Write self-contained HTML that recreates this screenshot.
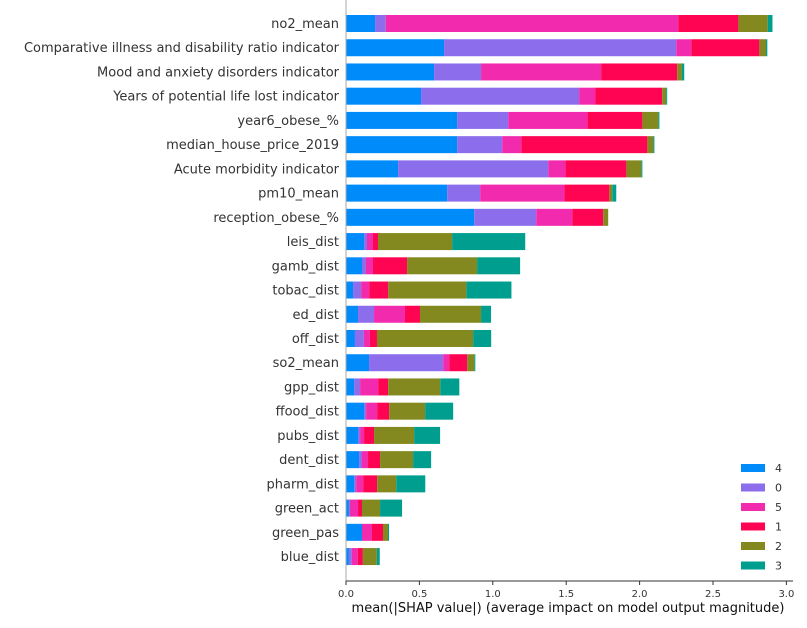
<!DOCTYPE html>
<html><head><meta charset="utf-8"><style>
html,body{margin:0;padding:0;background:#fff;}
svg text{font-family:"DejaVu Sans","Liberation Sans",sans-serif;}
</style></head><body>
<svg id="chart" width="807" height="623" xmlns="http://www.w3.org/2000/svg"></svg>
<script>
const features = ["no2_mean","Comparative illness and disability ratio indicator","Mood and anxiety disorders indicator","Years of potential life lost indicator","year6_obese_%","median_house_price_2019","Acute morbidity indicator","pm10_mean","reception_obese_%","leis_dist","gamb_dist","tobac_dist","ed_dist","off_dist","so2_mean","gpp_dist","ffood_dist","pubs_dist","dent_dist","pharm_dist","green_act","green_pas","blue_dist"];
const classNames = ["4","0","5","1","2","3"];
const class4 = [0.198,0.668,0.600,0.511,0.757,0.757,0.355,0.689,0.873,0.123,0.109,0.048,0.082,0.061,0.157,0.055,0.123,0.082,0.089,0.055,0.020,0.109,0.020];
const class0 = [0.073,1.582,0.320,1.077,0.348,0.307,1.023,0.225,0.423,0.020,0.027,0.055,0.109,0.061,0.505,0.041,0.014,0.014,0.020,0.014,0.007,0.000,0.020];
const class5 = [1.993,0.102,0.818,0.109,0.539,0.130,0.116,0.573,0.245,0.041,0.048,0.055,0.211,0.041,0.041,0.123,0.075,0.027,0.041,0.048,0.055,0.068,0.041];
const class1 = [0.409,0.464,0.518,0.457,0.375,0.859,0.416,0.307,0.211,0.034,0.232,0.130,0.102,0.048,0.123,0.068,0.082,0.068,0.082,0.095,0.027,0.075,0.034];
const class2 = [0.200,0.045,0.032,0.027,0.109,0.041,0.102,0.020,0.034,0.505,0.477,0.532,0.416,0.655,0.048,0.355,0.245,0.273,0.225,0.130,0.123,0.034,0.095];
const class3 = [0.032,0.009,0.016,0.007,0.007,0.007,0.007,0.027,0.000,0.498,0.293,0.307,0.068,0.123,0.007,0.130,0.191,0.177,0.123,0.198,0.150,0.007,0.020];
const xTicks = [0.0,0.5,1.0,1.5,2.0,2.5,3.0];
const xTickLabels = ["0.0","0.5","1.0","1.5","2.0","2.5","3.0"];

const series = [class4,class0,class5,class1,class2,class3];
const colors = ["#008bfb","#8c6eec","#f22aad","#ff0452","#83891e","#009e8e"];
const NS = "http://www.w3.org/2000/svg";
const svg = document.getElementById("chart");
const x0 = 346, pxPerUnit = 146.8;
const xScale = v => x0 + v * pxPerUnit;
const yScale = i => 23.5 + i * 24.23;
const barH = 17;
function mk(tag, attrs, parent){const e=document.createElementNS(NS,tag);for(const k in attrs)e.setAttribute(k,attrs[k]);(parent||svg).appendChild(e);return e;}

features.forEach((f,i)=>{
  let cum = 0;
  const g = mk("g",{});
  
  
  series.forEach((s,k)=>{
    const v = s[i];
    const r = mk("rect",{x:xScale(cum),y:yScale(i)-barH/2,width:Math.max(0,xScale(cum+v)-xScale(cum)),height:barH,fill:colors[k]},g);
    
    
    cum += v;
  });
  const t = mk("text",{x:339,y:yScale(i)+4.5,"text-anchor":"end","font-size":"13","fill":"#333"});
  t.textContent = f;
  
  
});

const ax = mk("line",{x1:x0,y1:0,x2:x0,y2:581,stroke:"#aaa","stroke-width":1});


const bx = mk("line",{x1:x0,y1:581,x2:793,y2:581,stroke:"#333","stroke-width":1});


xTicks.forEach((v,i)=>{
  const tk = mk("line",{x1:xScale(v),y1:581,x2:xScale(v),y2:585,stroke:"#333"});
  
  
  const tl = mk("text",{x:xScale(v),y:597,"text-anchor":"middle","font-size":"10","fill":"#333"});
  tl.textContent = xTickLabels[i];
  
  
});
const xl = mk("text",{x:568,y:612,"text-anchor":"middle","font-size":"13","fill":"#111"});
xl.textContent = "mean(|SHAP value|) (average impact on model output magnitude)";



classNames.forEach((c,k)=>{
  const y = 468 + k*19.5;
  const g = mk("g",{});
  
  
  mk("rect",{x:741,y:y-4,width:24,height:8,fill:colors[k]},g);
  const t = mk("text",{x:775,y:y+4,"font-size":"11","fill":"#333"},g);
  t.textContent = c;
});
</script>
</body></html>
